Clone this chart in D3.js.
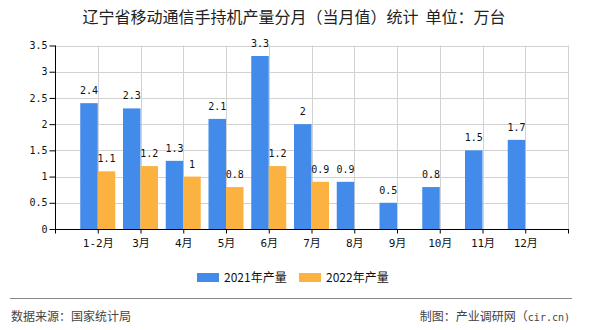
<!DOCTYPE html>
<html><head><meta charset="utf-8">
<script src="https://cdn.jsdelivr.net/npm/d3@7"></script>
<style>html,body{margin:0;padding:0;background:#fff;}svg{display:block;}</style>
</head><body>
<script>
const categories = ["1-2月","3月","4月","5月","6月","7月","8月","9月","10月","11月","12月"];
const series2021 = [2.4,2.3,1.3,2.1,3.3,2,0.9,0.5,0.8,1.5,1.7];
const series2022 = [1.1,1.2,1,0.8,1.2,0.9,null,null,null,null,null];
const seriesNames = ["2021年产量","2022年产量"];
const yTicks = [0,0.5,1,1.5,2,2.5,3,3.5];
const title = "辽宁省移动通信手持机产量分月（当月值）统计  单位：万台";
const sourceText = "数据来源：国家统计局";
const creditText = "制图：产业调研网（";
const creditTail = "cir.cn)";

const W = 590, H = 330;
const colors = ["#428BEA", "#FCB240"];
const monoFont = "'DejaVu Sans Mono','Noto Sans CJK SC',monospace";
const cjkFont = "'Noto Sans CJK SC','Noto Sans',sans-serif";

const svg = d3.select("body").append("svg").attr("width", W).attr("height", H);

const x = d3.scalePoint().domain(["__s", ...categories, "__e"]).range([55, 568]);
const y = d3.scaleLinear().domain([0, 3.5]).range([229, 45.5]);
const barW = 17.5;

// title
svg.append("text").attr("x", 294).attr("y", 23).attr("text-anchor", "middle")
  .attr("font-family", cjkFont).attr("font-size", 16).attr("fill", "#222")
  .attr("xml:space", "preserve").text(title);

// gridlines
const g = svg.append("g");
g.selectAll(".hg").data(yTicks).join("line")
  .attr("x1", 55).attr("x2", 568)
  .attr("y1", d => Math.round(y(d)) + 0.5).attr("y2", d => Math.round(y(d)) + 0.5)
  .attr("stroke", "#d2d2d2");
g.selectAll(".vg").data(x.domain().slice(1)).join("line")
  .attr("x1", d => Math.round(x(d)) + 0.5).attr("x2", d => Math.round(x(d)) + 0.5)
  .attr("y1", y(3.5)).attr("y2", y(0))
  .attr("stroke", "#d2d2d2");

// bars
const bars = svg.append("g");
[series2021, series2022].forEach((vals, si) => {
  const data = categories.map((c, i) => ({c, v: vals[i]})).filter(d => d.v != null);
  bars.selectAll(".b" + si).data(data).join("rect")
    .attr("x", d => si === 0 ? x(d.c) - barW : x(d.c))
    .attr("width", barW)
    .attr("y", d => y(d.v))
    .attr("height", d => y(0) - y(d.v))
    .attr("fill", colors[si]);
  bars.selectAll(".l" + si).data(data).join("text")
    .attr("x", d => (si === 0 ? x(d.c) - barW / 2 : x(d.c) + barW / 2))
    .attr("y", d => y(d.v) - 9)
    .attr("text-anchor", "middle")
    .attr("font-family", monoFont).attr("font-size", 10).attr("fill", "#111")
    .text(d => d.v);
});

// y axis
const yAxis = d3.axisLeft(y).tickValues(yTicks).tickSize(6).tickPadding(2).tickFormat(d => d);
const ya = svg.append("g").attr("transform", "translate(55.5,0)").call(yAxis);
ya.select(".domain").attr("stroke", "#000").attr("d", `M0,${y(3.5)}V${y(0)}`);
ya.selectAll(".tick line").attr("stroke", "#000");
ya.selectAll(".tick text").attr("font-family", monoFont).attr("font-size", 10).attr("fill", "#111");

// x axis
const xAxis = d3.axisBottom(x).tickSize(4).tickPadding(6).tickFormat(d => d.startsWith("__") ? "" : d);
const xa = svg.append("g").attr("transform", "translate(0,229.5)").call(xAxis);
xa.select(".domain").attr("stroke", "#000").attr("d", "M55,0H569");
xa.selectAll(".tick line").attr("stroke", "#000");
xa.selectAll(".tick text").attr("font-family", monoFont).attr("font-size", 11).attr("fill", "#111");

// legend
const legend = svg.append("g");
const lx = [197, 299];
seriesNames.forEach((n, i) => {
  legend.append("rect").attr("x", lx[i]).attr("y", 273).attr("width", 22).attr("height", 9).attr("fill", colors[i]);
  legend.append("text").attr("x", lx[i] + 27).attr("y", 282).attr("font-family", cjkFont)
    .attr("font-size", 12).attr("fill", "#111").text(n);
});

// separator & footer
svg.append("line").attr("x1", 10).attr("x2", 572).attr("y1", 298.5).attr("y2", 298.5).attr("stroke", "#888");
svg.append("text").attr("x", 11).attr("y", 321).attr("font-family", cjkFont).attr("font-size", 12)
  .attr("fill", "#444").text(sourceText);
const credit = svg.append("text").attr("x", 570).attr("y", 321).attr("text-anchor", "end")
  .attr("font-family", cjkFont).attr("font-size", 12).attr("fill", "#444");
credit.append("tspan").text(creditText);
credit.append("tspan").attr("font-family", monoFont).attr("font-size", 10).text(creditTail);
</script>
</body></html>
